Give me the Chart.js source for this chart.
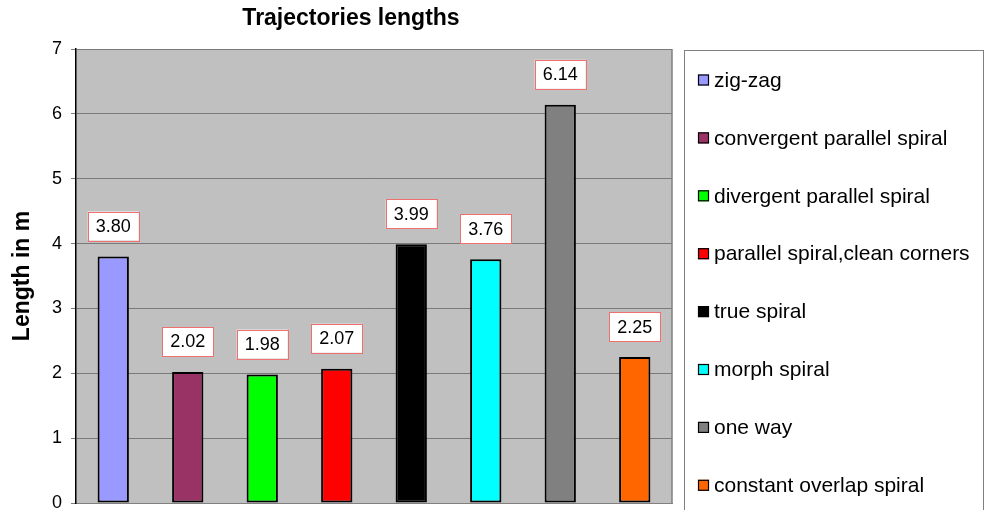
<!DOCTYPE html>
<html>
<head>
<meta charset="utf-8">
<script src="https://cdn.jsdelivr.net/npm/chart.js@4/dist/chart.umd.min.js"></script>
<style>
  html, body { margin: 0; padding: 0; background: #ffffff; }
  #wrap { width: 985px; height: 510px; }
</style>
</head>
<body>
<div id="wrap"><canvas id="c" width="985" height="510"></canvas></div>
<script>
const categories = ["zig-zag", "convergent parallel spiral", "divergent parallel spiral",
  "parallel spiral,clean corners", "true spiral", "morph spiral", "one way", "constant overlap spiral"];
const lengths = [3.80, 2.02, 1.98, 2.07, 3.99, 3.76, 6.14, 2.25];
const barColors = ["#9999FF", "#993366", "#00FF00", "#FF0000", "#000000", "#00FFFF", "#808080", "#FF6600"];
const yTicks = [0, 1, 2, 3, 4, 5, 6, 7];
const chartTitle = "Trajectories lengths";
const yTitle = "Length in m";

const FONT = "'Liberation Sans', Arial, sans-serif";

const plotBg = {
  id: 'plotBg',
  beforeDraw(chart) {
    const {ctx, chartArea: a} = chart;
    ctx.save();
    ctx.fillStyle = '#C0C0C0';
    ctx.fillRect(a.left, a.top, a.right - a.left, a.bottom - a.top);
    ctx.restore();
  },
  beforeDatasetsDraw(chart) {
    const {ctx, chartArea: a} = chart;
    ctx.save();
    ctx.strokeStyle = '#808080';
    ctx.lineWidth = 1.5;
    ctx.beginPath();
    ctx.moveTo(a.right, a.top);
    ctx.lineTo(a.right, a.bottom);
    ctx.stroke();
    ctx.restore();
  }
};

const titlePlugin = {
  id: 'titlePlugin',
  afterDraw(chart) {
    const {ctx} = chart;
    ctx.save();
    ctx.font = "bold 23px " + FONT;
    ctx.fillStyle = '#000';
    ctx.textAlign = 'center';
    ctx.textBaseline = 'alphabetic';
    ctx.fillText(chartTitle, 351, 25);
    ctx.restore();
  }
};

const valueLabels = {
  id: 'valueLabels',
  afterDatasetsDraw(chart) {
    const {ctx} = chart;
    const meta = chart.getDatasetMeta(0);
    ctx.save();
    ctx.font = "18px " + FONT;
    ctx.textAlign = 'center';
    ctx.textBaseline = 'middle';
    meta.data.forEach((bar, i) => {
      const txt = lengths[i].toFixed(2);
      const w = 51, h = 29;
      const cx = bar.x;
      const cy = bar.y - 16 - h / 2;
      ctx.fillStyle = '#FFFFFF';
      ctx.fillRect(cx - w / 2, cy - h / 2, w, h);
      ctx.strokeStyle = '#F07070';
      ctx.lineWidth = 1;
      ctx.strokeRect(Math.round(cx - w / 2) + 0.5, Math.round(cy - h / 2) + 0.5, w, h);
      ctx.fillStyle = '#000';
      ctx.fillText(txt, cx, cy + 1);
    });
    ctx.restore();
  }
};

const customLegend = {
  id: 'customLegend',
  afterDraw(chart) {
    const {ctx} = chart;
    ctx.save();
    ctx.strokeStyle = '#808080';
    ctx.lineWidth = 1;
    ctx.strokeRect(684.5, 50.5, 299, 480);
    ctx.font = "21px " + FONT;
    ctx.textAlign = 'left';
    ctx.textBaseline = 'middle';
    categories.forEach((name, i) => {
      const y = 80 + i * 57.9;
      ctx.fillStyle = barColors[i];
      ctx.fillRect(698, y - 5.5, 11, 11);
      ctx.strokeStyle = '#000';
      ctx.lineWidth = 1.2;
      ctx.strokeRect(698.5, y - 5, 10, 10);
      ctx.fillStyle = '#000';
      ctx.fillText(name, 714, y + 1);
    });
    ctx.restore();
  }
};

new Chart(document.getElementById('c'), {
  type: 'bar',
  data: {
    labels: categories,
    datasets: [{
      data: lengths,
      backgroundColor: barColors,
      borderColor: '#000000',
      borderWidth: 2,
      borderSkipped: false,
      barPercentage: 0.42,
      categoryPercentage: 1.0
    }]
  },
  options: {
    responsive: false,
    animation: false,
    devicePixelRatio: 1,
    layout: { padding: { top: 49, right: 313, bottom: 0, left: 0 } },
    plugins: {
      legend: { display: false },
      title: { display: false },
      tooltip: { enabled: false }
    },
    scales: {
      x: {
        ticks: { display: false },
        grid: { display: false },
        border: { display: true, color: '#808080', width: 1 },
        afterFit(scale) { scale.height = 7; }
      },
      y: {
        min: 0,
        max: 7,
        afterBuildTicks(scale) { scale.ticks = yTicks.map(v => ({ value: v })); },
        ticks: {
          color: '#000',
          font: { family: FONT, size: 18 },
          padding: 9
        },
        grid: {
          color: '#7a7a7a',
          lineWidth: 1,
          tickLength: 5,
          tickColor: '#7a7a7a'
        },
        border: { display: true, color: '#000', width: 1.5 },
        title: {
          display: true,
          text: yTitle,
          color: '#000',
          font: { family: FONT, size: 23, weight: 'bold' },
          padding: 9
        },
        afterFit(scale) {
          scale.width = 76;
          scale.paddingTop = 0;
          scale.paddingBottom = 0;
        }
      }
    }
  },
  plugins: [plotBg, valueLabels, titlePlugin, customLegend]
});
</script>
</body>
</html>
